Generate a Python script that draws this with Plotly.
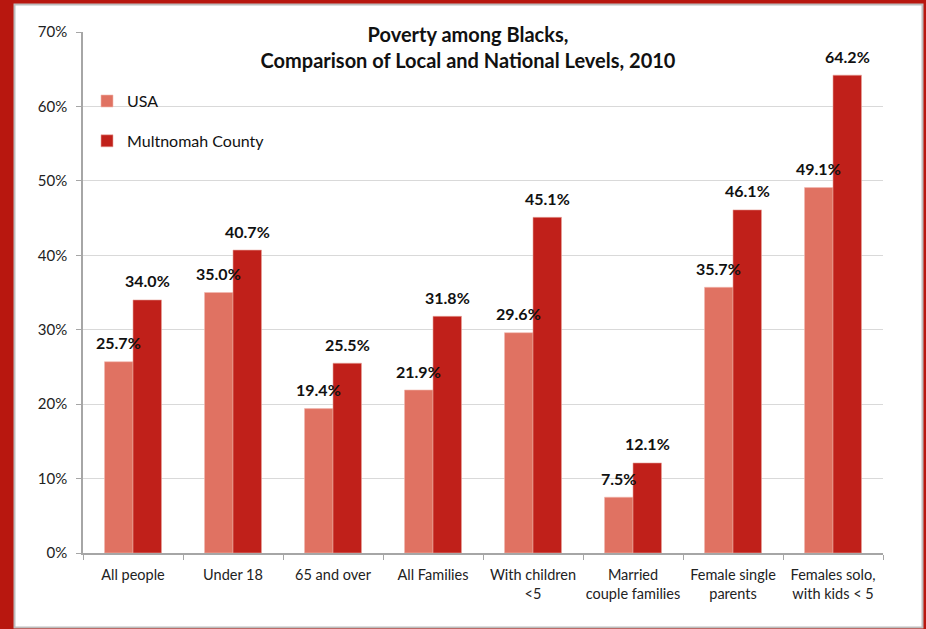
import plotly.graph_objects as go

# Poverty rates among Black residents, 2010 (percent)
categories = [
    "All people",
    "Under 18",
    "65 and over",
    "All Families",
    "With children<br><5",
    "Married<br>couple families",
    "Female single<br>parents",
    "Females solo,<br>with kids < 5",
]
usa = [25.7, 35.0, 19.4, 21.9, 29.6, 7.5, 35.7, 49.1]
multnomah = [34.0, 40.7, 25.5, 31.8, 45.1, 12.1, 46.1, 64.2]
y_ticks = [0, 10, 20, 30, 40, 50, 60, 70]
y_tick_labels = [f"{v}%" for v in y_ticks]

USA_COLOR = "#E07262"
MULT_COLOR = "#C0201A"
FONT = "Lato, 'Open Sans', sans-serif"
BARGAP = 0.43

fig = go.Figure()
fig.add_trace(go.Bar(
    name="USA", x=categories, y=usa, marker_color=USA_COLOR,
    marker_line=dict(color="#F2B9B0", width=0.6), legendgroup="a",
))
fig.add_trace(go.Bar(
    name="Multnomah County", x=categories, y=multnomah, marker_color=MULT_COLOR,
    marker_line=dict(color="#E8A49C", width=0.6), legendgroup="b",
))

# value labels sit a little above each bar, centred on it
cat_px = 100.0
bar_px = (1 - BARGAP) / 2 * cat_px
annotations = []
for series, sign in ((usa, -1), (multnomah, 1)):
    for c, v in zip(categories, series):
        annotations.append(dict(
            x=c, y=v, xref="x", yref="y", text=f"<b>{v:.1f}%</b>",
            showarrow=False, xshift=sign * bar_px / 2, yshift=19,
            yanchor="middle", font=dict(family=FONT, size=16, color="#111111"),
        ))

# chart frame on the red page
shapes = [dict(
    type="rect", xref="paper", yref="paper", layer="below",
    x0=(14.5 - 83) / 800, x1=(922.5 - 83) / 800,
    y0=(553 - 627.5) / 521, y1=(553 - 4.5) / 521,
    fillcolor="white", line=dict(color="#BDBDBD", width=2),
)]

fig.update_layout(
    width=926, height=629,
    margin=dict(l=83, r=43, t=32, b=76, autoexpand=False),
    paper_bgcolor="#B8170F",
    plot_bgcolor="white",
    barmode="group",
    bargap=BARGAP,
    bargroupgap=0,
    font=dict(family=FONT, size=15, color="#222222"),
    title=dict(
        text="<b>Poverty among Blacks,<br>Comparison of Local and National Levels, 2010</b>",
        x=(468 - 83) / 800, xref="paper", xanchor="center",
        y=(629 - 42) / 629, yref="container", yanchor="top",
        font=dict(family=FONT, size=20, color="#111111"),
        automargin=False,
    ),
    legend=dict(
        x=0.005, y=0.9, xanchor="left", yanchor="top",
        bgcolor="rgba(0,0,0,0)", tracegroupgap=16,
        font=dict(family=FONT, size=16, color="#111111"),
        itemwidth=30,
    ),
    showlegend=True,
    annotations=annotations,
    shapes=shapes,
)

fig.update_xaxes(
    showline=True, linecolor="#A6A6A6", linewidth=1.5,
    ticks="outside", tickson="boundaries", ticklen=5, tickcolor="#A6A6A6",
    tickfont=dict(family=FONT, size=14.5, color="#222222"),
    tickangle=0, automargin=False,
    ticklabelstandoff=8,
    showgrid=False,
)
fig.update_yaxes(
    range=[0, 70], tickvals=y_ticks, ticktext=y_tick_labels,
    showline=True, linecolor="#A6A6A6", linewidth=1.5,
    ticks="outside", ticklen=5, tickcolor="#A6A6A6",
    showgrid=True, gridcolor="#D9D9D9", gridwidth=1,
    tickfont=dict(family=FONT, size=15, color="#222222"),
    ticklabelstandoff=6, automargin=False,
    zeroline=False,
)

fig.write_html("out.html")
